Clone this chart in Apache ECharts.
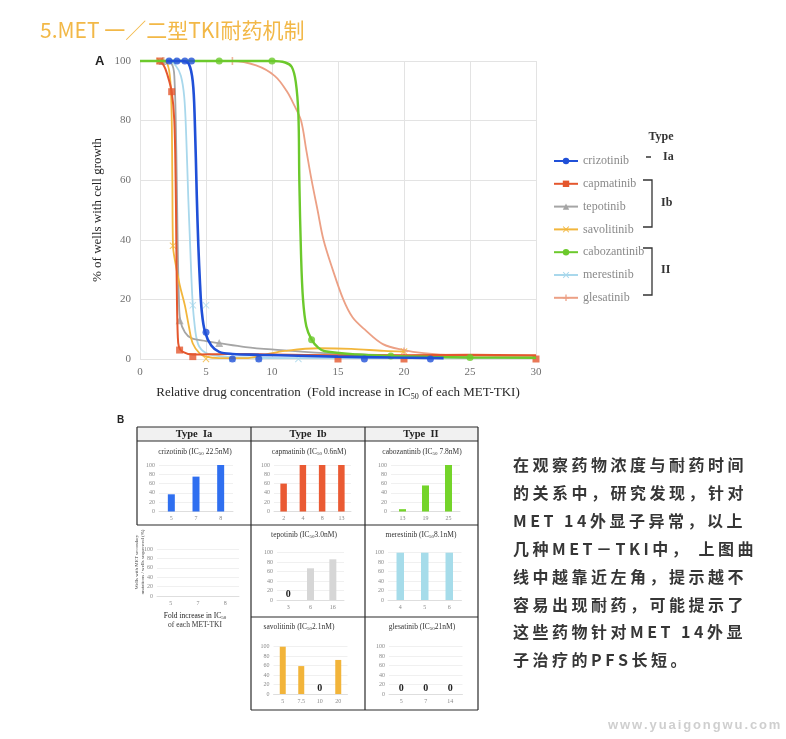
<!DOCTYPE html>
<html><head><meta charset="utf-8">
<script src="https://cdn.jsdelivr.net/npm/echarts@6/dist/echarts.min.js"></script>
<style>html,body{margin:0;padding:0;background:#fff}#c{width:786px;height:739px}</style>
</head><body><div id="c"></div>
<script>
// ---------------- DATA ----------------
const drugNames = ['crizotinib','capmatinib','tepotinib','savolitinib','cabozantinib','merestinib','glesatinib'];
const xTicksMain = [0,5,10,15,20,25,30];
const yTicksMain = [0,20,40,60,80,100];

// Panel A: fitted curves [fold increase, % wells with growth]
const crizotinibCurve = [[2,100],[3.2,100],[3.7,99],[4.0,93],[4.15,80],[4.3,55],[4.42,38],[4.55,25],[4.68,16],[4.92,9.2],[5.4,4.5],[6,2.4],[7,1.7],[9,1.4],[12,1.1],[15,0.8],[19,0.5],[23,0.3]];
const crizotinibMarks = [[2.2,100],[2.8,100],[3.4,100],[3.9,100],[5,9],[7,0],[9,0],[17,0],[22,0]];
const capmatinibCurve = [[0,100],[1.4,100],[1.8,98.5],[2.1,95],[2.4,89.7],[2.6,80],[2.7,60],[2.75,40],[2.8,20],[2.86,8],[2.95,4],[3.2,2.5],[4,1.5],[6,1.6],[8,1.7],[10,1.5],[15,1.3],[20,1.3],[25,1.4],[30,1.3]];
const capmatinibMarks = [[1.5,100],[2.4,89.7],[3,3],[4,0.8],[15,0],[20,0],[30,0]];
const tepotinibCurve = [[0,100],[1.8,100],[2.4,99],[2.6,95],[2.75,70],[2.85,40],[2.95,20],[3.05,13],[3.4,9],[3.9,7],[5,6],[6,5.3],[8,4],[10,3.2],[14,2],[18,1.4],[22,0.9],[25,0.5]];
const tepotinibMarks = [[1.7,100],[3,13],[6,5.4]];
const savolitinibCurve = [[0,100],[1.8,100],[2.2,97],[2.38,85],[2.45,60],[2.5,38],[2.65,33],[3,25],[3.4,18],[3.7,11],[4.0,5.2],[4.5,2],[5,0.8],[6,0.3],[8,0.3],[9.5,1.5],[11,2.7],[13.5,3.6],[16,3.4],[18.5,2.7],[20,2.5]];
const savolitinibMarks = [[1.5,100],[2.5,38],[5,0],[20,2.5]];
const cabozantinibCurve = [[0,100],[6,100],[10,100],[11,99.5],[11.5,98],[11.8,93],[12.0,82],[12.07,60],[12.2,35],[12.35,20],[12.6,11],[13,6.5],[13.5,3.8],[14,2.6],[16.4,1.5],[19,1],[22,0.7],[25,0.5],[30,0.4]];
const cabozantinibMarks = [[6,100],[10,100],[13,6.5],[19,1],[25,0.5]];
const merestinibCurve = [[0,100],[2.2,100],[2.7,98.5],[3.1,95],[3.35,88],[3.5,75],[3.65,55],[3.8,38],[3.95,22],[4.1,13],[4.4,5],[5,2],[6,1],[8,0.5],[12,0.3],[20,0.3],[30,0.3]];
const merestinibMarks = [[2.5,100],[4,18],[5,18],[7,0],[9,0],[12,0]];
const glesatinibCurve = [[0,100],[7,100],[8.8,98.5],[10.2,95],[11.1,90],[11.7,85],[12.2,80],[12.6,70],[13.0,60],[13.45,50],[13.9,40],[14.6,30],[15.4,20],[16.1,14],[17,10],[18.4,5],[20,3],[21.5,2],[24,1.2],[27,1],[30,0.9]];
const glesatinibMarks = [[1.8,100],[7,100],[20,2.5]];

const typeLabels = ['Ia','Ib','II'];

// Panel B: wells with MET secondary mutations / wells sequenced (%)
const bCrizCats = ['5','7','8'];        const bCrizVals = [37,75,100];
const bCapCats  = ['2','4','8','13'];   const bCapVals  = [60,100,100,100];
const bCaboCats = ['13','19','25'];     const bCaboVals = [5,56,100];
const bAxisCats = ['5','7','8'];        const bAxisVals = [];
const bTepoCats = ['3','6','16'];       const bTepoVals = [0,67,86];
const bMereCats = ['4','5','6'];        const bMereVals = [100,100,100];
const bSavoCats = ['5','7.5','10','20'];const bSavoVals = [100,59,0,72];
const bGlesCats = ['5','7','14'];       const bGlesVals = [0,0,0];
const bYTicks = [0,20,40,60,80,100];

const rightText = [
 '在观察药物浓度与耐药时间',
 '的关系中，研究发现，针对',
 'MET 14外显子异常，以上',
 '几种MET－TKI中， 上图曲',
 '线中越靠近左角，提示越不',
 '容易出现耐药，可能提示了',
 '这些药物针对MET 14外显',
 '子治疗的PFS长短。'
];

// ---------------- STYLE / LAYOUT ----------------
const serif = '"Liberation Serif","DejaVu Serif",serif';
const cjk = '"Noto Sans CJK SC","Noto Sans",sans-serif';
const X_PATH = 'path://M1,0L5,4L9,0L10,1L6,5L10,9L9,10L5,6L1,10L0,9L4,5L0,1Z';
const PLUS_PATH = 'path://M4,0H6V4H10V6H6V10H4V6H0V4H4Z';
const drugStyle = {
  crizotinib:  {color:'#2050d8', symbol:'circle',   ms:7, lw:2.6, z:20, curve:crizotinibCurve, marks:crizotinibMarks},
  capmatinib:  {color:'#e4572e', symbol:'rect',     ms:7, lw:2.0, z:16, curve:capmatinibCurve, marks:capmatinibMarks},
  tepotinib:   {color:'#a5a5a5', symbol:'triangle', ms:8, lw:1.8, z:13, curve:tepotinibCurve, marks:tepotinibMarks},
  savolitinib: {color:'#f2b63c', symbol:X_PATH,     ms:7, lw:1.8, z:14, curve:savolitinibCurve, marks:savolitinibMarks},
  cabozantinib:{color:'#6cc92c', symbol:'circle',   ms:7, lw:2.4, z:18, curve:cabozantinibCurve, marks:cabozantinibMarks},
  merestinib:  {color:'#a9d8ec', symbol:X_PATH,     ms:7, lw:1.8, z:12, curve:merestinibCurve, marks:merestinibMarks},
  glesatinib:  {color:'#eca085', symbol:PLUS_PATH,  ms:8, lw:1.8, z:10, curve:glesatinibCurve, marks:glesatinibMarks}
};

const grids = [{left:140, top:61, width:396, height:298}];
const xAxes = [{
  type:'value', gridIndex:0, min:0, max:30, interval:5,
  axisLine:{show:false}, axisTick:{show:false},
  splitLine:{show:true, lineStyle:{color:'#e3e3e3', width:1}},
  axisLabel:{color:'#707070', fontFamily:serif, fontSize:11, margin:8, customValues: xTicksMain},
  name:'{a|Relative drug concentration  (Fold increase in IC}{s|50}{a| of each MET-TKI)}',
  nameLocation:'middle', nameGap:26,
  nameTextStyle:{rich:{a:{fontFamily:serif, fontSize:13, color:'#262626'}, s:{fontFamily:serif, fontSize:8, color:'#262626', padding:[8,0,0,0]}}}
}];
const yAxes = [{
  type:'value', gridIndex:0, min:0, max:100, interval:20,
  axisLine:{show:false}, axisTick:{show:false},
  splitLine:{show:true, lineStyle:{color:'#e3e3e3', width:1}},
  axisLabel:{color:'#707070', fontFamily:serif, fontSize:11, margin:9},
  name:'% of wells with cell growth', nameLocation:'middle', nameGap:32,
  nameTextStyle:{fontFamily:serif, fontSize:13, color:'#262626'}
}];
const series = [];
drugNames.forEach(n => {
  const s = drugStyle[n];
  series.push({type:'line', name:n, xAxisIndex:0, yAxisIndex:0, data:s.curve, smooth:0.35,
    showSymbol:false, symbol:s.symbol, symbolSize:s.ms, clip:false, silent:true, z:s.z,
    lineStyle:{color:s.color, width:s.lw}, itemStyle:{color:s.color}});
  series.push({type:'scatter', name:n, xAxisIndex:0, yAxisIndex:0, data:s.marks, symbol:s.symbol,
    symbolSize:s.ms, clip:false, silent:true, z:s.z+1, itemStyle:{color:s.color}});
});

// mini bar charts of panel B
const minis = [
  {cats:bCrizCats, vals:bCrizVals, color:'#2f6ff0', bw:7, rect:[159,465,74,46.5]},
  {cats:bCapCats,  vals:bCapVals,  color:'#ea5a33', bw:6.5, rect:[274,465,77,46.5]},
  {cats:bCaboCats, vals:bCaboVals, color:'#74d42a', bw:7, rect:[391,465,69,46.5]},
  {cats:bAxisCats, vals:bAxisVals, color:'#999999', bw:7, rect:[157,549,82,47]},
  {cats:bTepoCats, vals:bTepoVals, color:'#d6d6d6', bw:7, rect:[277,552.7,67,47.3]},
  {cats:bMereCats, vals:bMereVals, color:'#a6dcea', bw:7.5, rect:[388,552.7,73.5,47.3]},
  {cats:bSavoCats, vals:bSavoVals, color:'#f2b43a', bw:6, rect:[273.5,646.7,74,47.3]},
  {cats:bGlesCats, vals:bGlesVals, color:'#cccccc', bw:7, rect:[389,646.7,73.5,47.3]}
];
minis.forEach((m,i) => {
  const gi = i+1;
  grids.push({left:m.rect[0], top:m.rect[1], width:m.rect[2], height:m.rect[3]});
  xAxes.push({type:'category', gridIndex:gi, data:m.cats, axisTick:{show:false},
    axisLine:{show:true, lineStyle:{color:'#d9d9d9', width:0.8}},
    axisLabel:{fontSize:6, color:'#8a8a8a', fontFamily:serif, margin:4}});
  yAxes.push({type:'value', gridIndex:gi, min:0, max:100, interval:20,
    axisLine:{show:false}, axisTick:{show:false},
    splitLine:{show:true, lineStyle:{color:'#ececec', width:0.8}},
    axisLabel:{fontSize:6, color:'#8a8a8a', fontFamily:serif, margin:4}});
  series.push({type:'bar', xAxisIndex:gi, yAxisIndex:gi, data:m.vals, barWidth:m.bw,
    itemStyle:{color:m.color}, silent:true,
    label:{show:true, position:'top', distance:1, fontSize:10, fontWeight:'bold', color:'#222', fontFamily:serif,
      formatter:p => (p.value === 0 ? '0' : '')}});
});

// ---------------- GRAPHICS ----------------
const g = [];
function txt(x,y,text,opt){
  opt = opt || {};
  g.push({type:'text', x:x, y:y, rotation:opt.rot||0, z:100, silent:true, style:Object.assign({
    text:text, fill:opt.fill||'#222', fontSize:opt.size||12, fontFamily:opt.family||serif,
    fontWeight:opt.weight||'normal', align:opt.align||'left', textAlign:opt.align||'left',
    verticalAlign:'middle', textVerticalAlign:'middle'}, opt.rich?{rich:opt.rich}:{})});
}
function line(x1,y1,x2,y2,color,w){
  g.push({type:'line', z:100, silent:true, shape:{x1:x1,y1:y1,x2:x2,y2:y2}, style:{stroke:color||'#222', lineWidth:w||1}});
}
function poly(pts,color,w){
  g.push({type:'polyline', z:100, silent:true, shape:{points:pts}, style:{stroke:color||'#222', lineWidth:w||1, fill:null}});
}
const mctx = document.createElement('canvas').getContext('2d');
function spaced(str,x,y,size,weight,family,fill,spacing){
  mctx.font = weight + ' ' + size + 'px ' + family;
  let cx = x;
  for (const ch of str){
    if (ch !== ' ') g.push({type:'text', x:cx, y:y, z:100, silent:true, style:{text:ch, fill:fill, fontSize:size,
      fontFamily:family, fontWeight:weight, align:'left', textAlign:'left', verticalAlign:'middle', textVerticalAlign:'middle'}});
    cx += mctx.measureText(ch).width + spacing;
  }
}

// page title
txt(40, 30, '5.MET 一／二型TKI耐药机制', {fill:'#f2b847', size:21, family:cjk});
// panel labels
txt(95, 61, 'A', {size:13, weight:'bold', family:'"Liberation Sans",Arial,sans-serif'});
txt(117, 420, 'B', {size:10, weight:'bold', family:'"Liberation Sans",Arial,sans-serif'});

// legend type annotations
txt(661, 137, 'Type', {size:12, weight:'bold', align:'center', fill:'#333'});
line(646, 157, 651, 157, '#333', 1.5);
txt(663, 157, typeLabels[0], {size:12, weight:'bold', fill:'#333'});
poly([[643,180],[652,180],[652,227],[643,227]], '#333', 1.3);
txt(661, 203, typeLabels[1], {size:12, weight:'bold', fill:'#333'});
poly([[643,248],[652,248],[652,295],[643,295]], '#333', 1.3);
txt(661, 270, typeLabels[2], {size:12, weight:'bold', fill:'#333'});

// table of panel B
g.push({type:'rect', z:90, silent:true, shape:{x:137,y:427,width:341,height:14}, style:{fill:'#f1f1f1'}});
const tc = '#2a2a2a', tw = 1.2;
line(137,427,478,427,tc,tw); line(137,441,478,441,tc,tw); line(137,525,478,525,tc,tw);
line(137,427,137,525,tc,tw); line(251,427,251,710,tc,tw); line(365,427,365,710,tc,tw); line(478,427,478,710,tc,tw);
line(251,617,478,617,tc,tw); line(251,710,478,710,tc,tw);
txt(194, 434, 'Type  ' + typeLabels[0], {size:10.5, weight:'bold', align:'center'});
txt(308, 434, 'Type  ' + typeLabels[1], {size:10.5, weight:'bold', align:'center'});
txt(421, 434, 'Type  ' + typeLabels[2], {size:10.5, weight:'bold', align:'center'});
const subRich = {a:{fontSize:7.5, fontFamily:serif, fill:'#333', color:'#333'}, s:{fontSize:5, fontFamily:serif, fill:'#333', color:'#333', padding:[4,0,0,0]}};
function miniTitle(x,y,name,ic){ txt(x,y,'{a|'+name+' (IC}{s|50}{a|'+ic+')}', {align:'center', rich:subRich}); }
miniTitle(195,452,'crizotinib',' 22.5nM');
miniTitle(309,452,'capmatinib',' 0.6nM');
miniTitle(422,452,'cabozantinib',' 7.8nM');
miniTitle(304,535,'tepotinib','3.0nM');
miniTitle(421,535,'merestinib','8.1nM');
miniTitle(299,627,'savolitinib','2.1nM');
miniTitle(422,627,'glesatinib','21nM');
// axis titles of the empty frame chart
txt(137, 562, 'Wells with MET secondary', {size:5, align:'center', rot:Math.PI/2, fill:'#444'});
txt(143, 562, 'mutations / wells sequenced (%)', {size:5, align:'center', rot:Math.PI/2, fill:'#444'});
txt(195, 616, '{a|Fold increase in IC}{s|50}', {align:'center', rich:{a:{fontSize:7.5,fontFamily:serif,color:'#333'}, s:{fontSize:5,fontFamily:serif,color:'#333',padding:[4,0,0,0]}}});
txt(195, 625, 'of each MET-TKI', {size:7.5, align:'center', fill:'#333'});

// right Chinese paragraph
rightText.forEach((l,i) => spaced(l, 513, 465 + i*27.9, 16, 'bold', cjk, '#363636', 3.5));
// watermark
spaced('www.yuaigongwu.com', 608, 725, 13, 'bold', '"Liberation Sans",Arial,sans-serif', '#cfcfcf', 1.9);

const option = {
  animation:false,
  backgroundColor:'#ffffff',
  legend:{
    data:drugNames, orient:'vertical', left:548, top:150, itemWidth:24, itemHeight:8, itemGap:10.8,
    textStyle:{fontFamily:serif, fontSize:12, color:'#8a8a8a', lineHeight:12},
    selectedMode:false
  },
  grid:grids, xAxis:xAxes, yAxis:yAxes, series:series, graphic:g
};
const chart = echarts.init(document.getElementById('c'));
chart.setOption(option);
</script></body></html>
